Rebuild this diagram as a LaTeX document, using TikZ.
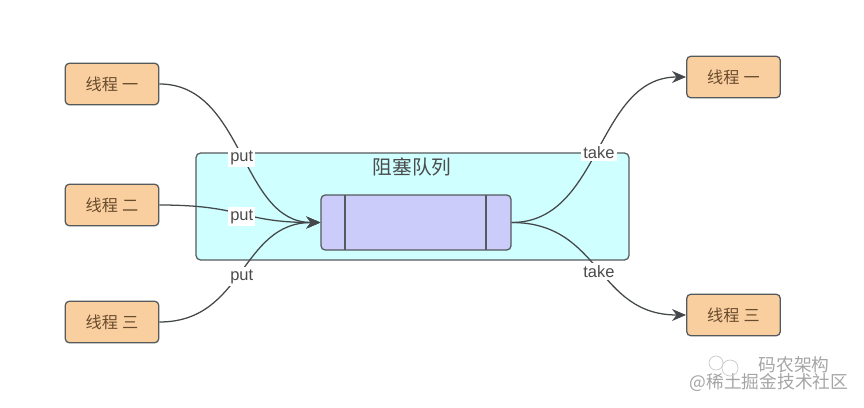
\documentclass[tikz,border=0pt]{standalone}
\usepackage{fontspec}
\usepackage{xcolor}
\usepackage{tikz}
\usetikzlibrary{calc,positioning,arrows.meta}
\setmainfont{Liberation Sans}
\newfontfamily\cjk{Noto Sans CJK SC}
\definecolor{linegray}{RGB}{85,90,92}
\definecolor{threadfill}{RGB}{249,207,160}
\definecolor{threadtext}{RGB}{105,75,45}
\definecolor{boxfill}{RGB}{207,255,255}
\definecolor{queuefill}{RGB}{204,204,250}
\definecolor{labeltext}{RGB}{75,75,75}
\definecolor{marktext}{RGB}{165,165,165}

\begin{document}
\begin{tikzpicture}[
  x=0.25mm, y=-0.25mm,
  thread/.style={draw=linegray, fill=threadfill, rounded corners=3pt, line width=0.9pt,
    minimum width=23.4mm, minimum height=10.4mm, font=\cjk\fontsize{11.5}{13}\selectfont,
    text=threadtext, inner sep=0pt},
  lbl/.style={fill=white, text=labeltext, inner sep=1.5pt,
    font=\fontsize{11.7}{13}\selectfont},
  arr/.style={-{Stealth[length=10pt, width=8.5pt]}, linegray!80!black, line width=0.9pt},
  wmark/.style={text=marktext, inner sep=0pt, font=\cjk\fontsize{12.6}{14}\selectfont},
]
  \useasboundingbox (0,0) rectangle (864,407);

  \node[draw=linegray, fill=boxfill, rounded corners=3pt, line width=0.9pt,
    minimum width=108.2mm, minimum height=26.7mm] (container) at (412.5,206.5) {};
  \node[font=\cjk\fontsize{14}{16}\selectfont, text=labeltext, inner sep=0pt] (title) at (412,167) {阻塞队列};
  \node[draw=linegray, fill=queuefill, rounded corners=3pt, line width=0.9pt,
    minimum width=47.5mm, minimum height=13.75mm] (queue) at (416,222.5) {};
  \draw[linegray, line width=0.9pt] (345,195) -- (345,250);
  \draw[linegray, line width=0.9pt] (486,195) -- (486,250);

  \node[thread] (in1) at (112,84) {线程\hspace{3pt}一};
  \node[thread] (in2) at (112,205) {线程\hspace{3pt}二};
  \node[thread] (in3) at (112,322) {线程\hspace{3pt}三};
  \node[thread] (out1) at (733.5,77) {线程\hspace{3pt}一};
  \node[thread] (out3) at (733.5,315) {线程\hspace{3pt}三};

  \draw[arr] (in1.east) .. controls +(85,0) and +(-80,0) .. node[lbl, yshift=-3pt] (put1) {put} (queue.west);
  \draw[arr] (in2.east) .. controls +(85,0) and +(-80,0) .. node[lbl, yshift=-2pt] (put2) {put} (queue.west);
  \draw[arr] (in3.east) .. controls +(85,0) and +(-80,0) .. node[lbl, yshift=-3pt] (put3) {put} (queue.west);
  \draw[arr] (queue.east) .. controls +(90,0) and +(-90,0) .. node[lbl, yshift=-2pt] (take1) {take} (out1.west);
  \draw[arr] (queue.east) .. controls +(90,0) and +(-90,0) .. node[lbl, yshift=-2pt] (take3) {take} (out3.west);

  \node[wmark] (mark1) at (794,365) {码农架构};
  \node[wmark] (mark2) at (769,383) {@稀土掘金技术社区};
  \draw[marktext!60, line width=0.5pt] (716,363) circle (7);
  \draw[marktext!60, line width=0.5pt] (730,368) circle (8);
\end{tikzpicture}
\end{document}
